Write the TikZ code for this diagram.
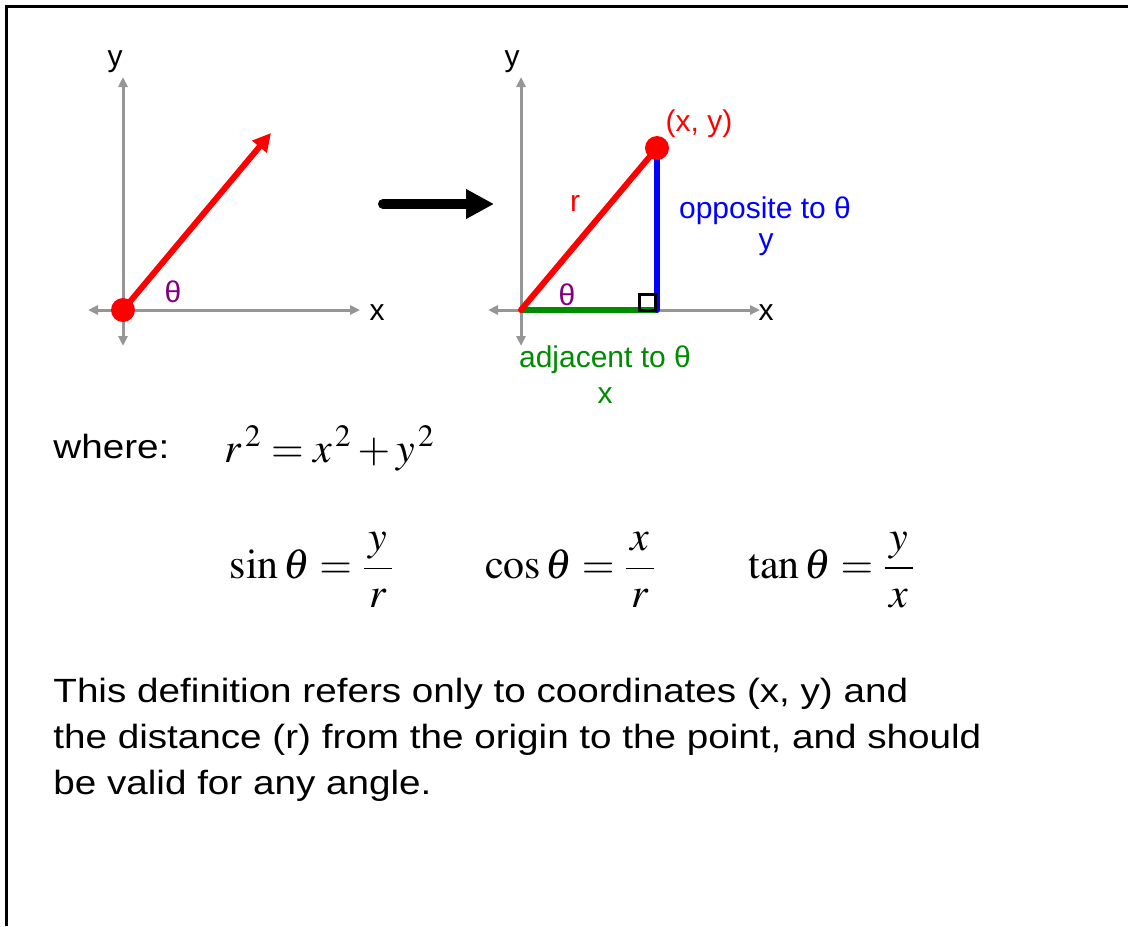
\documentclass[tikz,border=0pt]{standalone}
\usepackage{mathptmx}
\usepackage[no-math]{fontspec}
\setmainfont{Liberation Sans}
\newfontfamily\bodyfont[FakeStretch=1.15]{Liberation Sans}
\usetikzlibrary{arrows.meta}

\definecolor{axisgrey}{RGB}{150,150,150}
\definecolor{adjgreen}{RGB}{0,140,0}
\definecolor{thetapurple}{RGB}{128,0,128}

\begin{document}
\begin{tikzpicture}[
  x=0.5pt,
  y=-0.5pt,
  axis/.style={draw=axisgrey,line width=1.5pt,
    {Triangle[length=5pt,width=4.5pt]}-{Triangle[length=5pt,width=4.5pt]}},
  vec/.style={draw=red,line width=3pt,-{Triangle[length=9pt,width=9pt]}},
  side/.style={line width=3pt,line cap=round},
  dot/.style={fill=red},
  lab/.style={inner sep=0pt,font=\fontsize{15}{18}\selectfont},
  txt/.style={inner sep=0pt,font=\bodyfont\fontsize{16.8}{20}\selectfont},
  eq/.style={inner sep=0pt,font=\fontsize{21}{25}\selectfont}
]
\useasboundingbox (0,0) rectangle (1128,926);
\draw[line width=1.5pt] (6,926) -- (6,6) -- (1128,6);

% left picture: the vector
\coordinate (o1) at (123,310);
\coordinate (tip1) at (271,133);
\draw[axis] (88,310) -- (360,310);
\draw[axis] (123,346) -- (123,77);
\node[lab] (y1) at (115,62) {y};
\node[lab] (x1) at (377,313) {x};
\draw[vec] (o1) -- (tip1);
\fill[dot] (o1) circle[radius=6pt];
\node[lab,text=thetapurple] (th1) at (173,292) {θ};

% the big arrow between them
\coordinate (a1) at (383,204);
\coordinate (a2) at (494,204);
\draw[line width=5pt,line cap=round,-{Triangle[length=14pt,width=14pt]}] (a1) -- (a2);

% right picture: the triangle
\coordinate (o2) at (521,310);
\coordinate (p) at (657,148);
\coordinate (foot) at (657,310);
\draw[axis] (488,310) -- (760,310);
\draw[axis] (521,346) -- (521,77);
\node[lab] (y2) at (512,62) {y};
\node[lab] (x2) at (766,313) {x};
\draw[side,adjgreen,line cap=butt] (o2) -- (foot);
\draw[side,blue] (foot) -- (p);
\draw[side,red] (o2) -- (p);
\draw[line width=1.5pt] (639,294) rectangle (655,310);
\fill[dot] (p) circle[radius=6pt];
\node[lab,text=red] (pt) at (699,124) {(x, y)};
\node[lab,text=red] (r) at (575,203) {r};
\node[lab,text=blue] (opp) at (765,211) {opposite to θ};
\node[lab,text=blue] (oppy) at (766,245) {y};
\node[lab,text=thetapurple] (th2) at (567,295) {θ};
\node[lab,text=adjgreen] (adj) at (605,360) {adjacent to θ};
\node[lab,text=adjgreen] (adjx) at (605,396) {x};

% formulas
\node[txt,anchor=base west] (where) at (53,458) {where:};
\node[eq,anchor=base west] (pyth) at (224,462) {$r^{\,2} = x^{\,2} + y^{\,2}$};
\node[eq] (sin) at (312,570) {$\displaystyle \sin\theta = \frac{\,y\,}{\,r\,}$};
\node[eq] (cos) at (571,570) {$\displaystyle \cos\theta = \frac{\,x\,}{\,r\,}$};
\node[eq] (tan) at (832,570) {$\displaystyle \tan\theta = \frac{\,y\,}{\,x\,}$};

% closing remark
\node[txt,anchor=base west] (line1) at (53,702) {This definition refers only to coordinates (x, y) and};
\node[txt,anchor=base west] (line2) at (53,748) {the distance (r) from the origin to the point, and should};
\node[txt,anchor=base west] (line3) at (53,794) {be valid for any angle.};
\end{tikzpicture}
\end{document}
